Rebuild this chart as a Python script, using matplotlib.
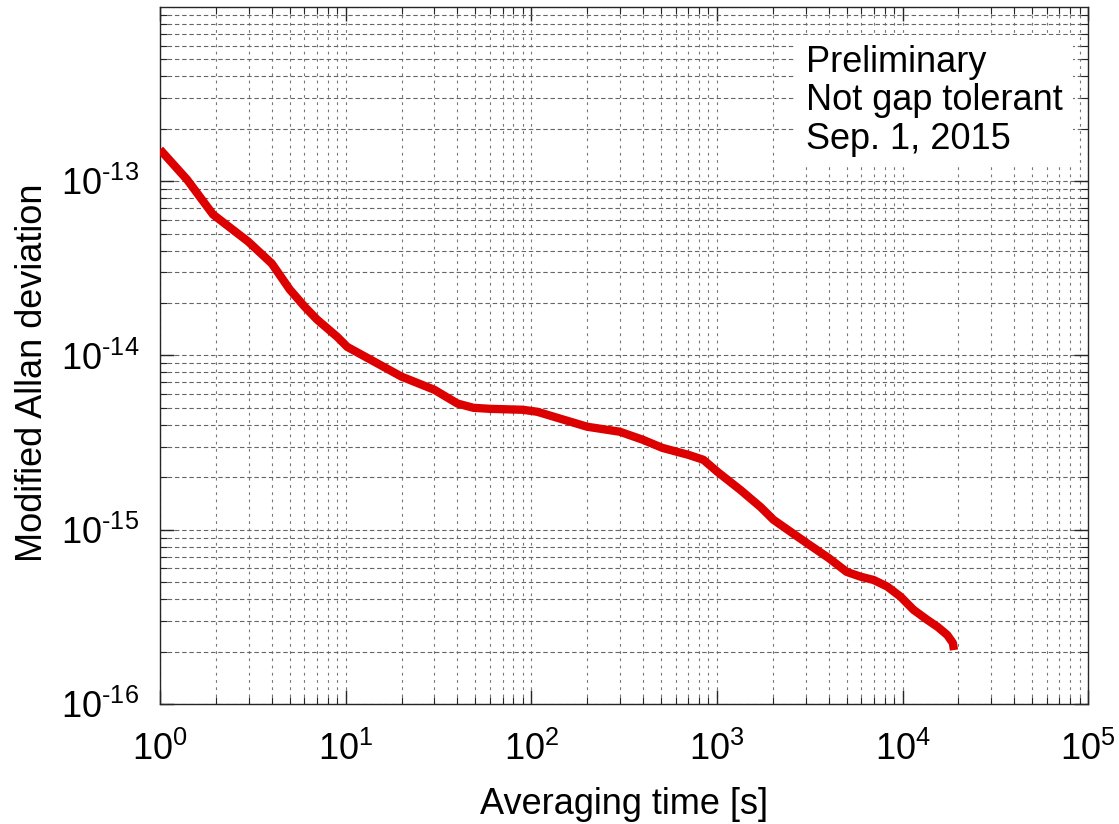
import numpy as np
import matplotlib
matplotlib.use("Agg")
import matplotlib.pyplot as plt
from matplotlib.ticker import LogLocator, NullFormatter, FuncFormatter

plt.rcParams['font.family'] = ['Liberation Sans', 'DejaVu Sans']
plt.rcParams['mathtext.fontset'] = 'custom'
plt.rcParams['mathtext.rm'] = 'Liberation Sans'
plt.rcParams['mathtext.it'] = 'Liberation Sans:italic'

## data
tau = [1.0, 1.4, 1.93, 2.98, 4.0, 5.0, 6.0, 7.0, 9.0, 10.2, 20, 30, 40, 48.7, 60,
       90, 108, 138, 200, 300, 400, 508, 702, 845, 1006, 1340, 1718, 2017,
       3040, 3994, 5000, 5940, 6980, 8270, 9750, 11460, 13590, 15450, 17400,
       18660, 18910]
mdev = [1.52e-13, 1.02e-13, 6.44e-14, 4.51e-14, 3.37e-14, 2.39e-14, 1.91e-14,
        1.61e-14, 1.28e-14, 1.12e-14, 7.56e-15, 6.36e-15, 5.3e-15, 5.01e-15,
        4.94e-15, 4.88e-15, 4.75e-15, 4.39e-15, 3.90e-15, 3.65e-15, 3.28e-15,
        2.95e-15, 2.69e-15, 2.52e-15, 2.15e-15, 1.69e-15, 1.35e-15, 1.14e-15,
        8.40e-16, 6.89e-16, 5.73e-16, 5.38e-16, 5.15e-16, 4.72e-16, 4.13e-16,
        3.47e-16, 3.04e-16, 2.77e-16, 2.49e-16, 2.24e-16, 2.04e-16]

note = "Preliminary\nNot gap tolerant\nSep. 1, 2015"


def pow10(v, pos):
    # matlab style labels, plain hyphen in the exponent
    e = int(round(np.log10(v)))
    if e < 0:
        return r'$10^{\text{-}%d}$' % (-e)
    return r'$10^{%d}$' % e


fig = plt.figure(figsize=(11.19, 8.24), dpi=100)
ax = fig.add_axes([0.143, 0.1456, 0.8295, 0.846])

ax.plot(tau, mdev, color='#dd0000', lw=6, solid_joinstyle='round',
        solid_capstyle='butt', zorder=3)

ax.set_xscale('log')
ax.set_yscale('log')
ax.set_xlim(1, 1e5)
ax.set_ylim(1e-16, 1e-12)
ax.set_yticks([1e-16, 1e-15, 1e-14, 1e-13])
ax.xaxis.set_minor_locator(LogLocator(base=10, subs=np.arange(2, 10), numticks=20))
ax.yaxis.set_minor_locator(LogLocator(base=10, subs=np.arange(2, 10), numticks=20))
ax.xaxis.set_major_formatter(FuncFormatter(pow10))
ax.yaxis.set_major_formatter(FuncFormatter(pow10))
ax.xaxis.set_minor_formatter(NullFormatter())
ax.yaxis.set_minor_formatter(NullFormatter())

# grid, dashed grey for both major and minor
ax.yaxis.grid(True, which='both', color='#666666', lw=0.8, linestyle=(0, (4, 2.5)))
ax.xaxis.grid(True, which='both', color='#777777', lw=0.8, linestyle=(0, (2.5, 4)))
ax.set_axisbelow(True)

ax.tick_params(which='both', direction='in', top=True, right=True, color='#262626')
ax.tick_params(which='major', length=10, width=1, labelsize=26)
ax.tick_params(axis='x', which='major', pad=20)
ax.tick_params(axis='y', which='major', pad=15)
ax.tick_params(which='minor', length=5, width=0.8)
for s in ax.spines.values():
    s.set_color('#262626')
    s.set_linewidth(1)

ax.set_xlabel('Averaging time [s]', fontsize=26, labelpad=14)
ax.set_ylabel('Modified Allan deviation', fontsize=26)
ax.yaxis.set_label_coords(-0.1185, 0.475)

ax.text(0.696, 0.946, note, transform=ax.transAxes, fontsize=26, va='top',
        ha='left', linespacing=1.13, zorder=4,
        bbox=dict(facecolor='white', edgecolor='none', pad=7))

fig.savefig('out.png', dpi=100)
